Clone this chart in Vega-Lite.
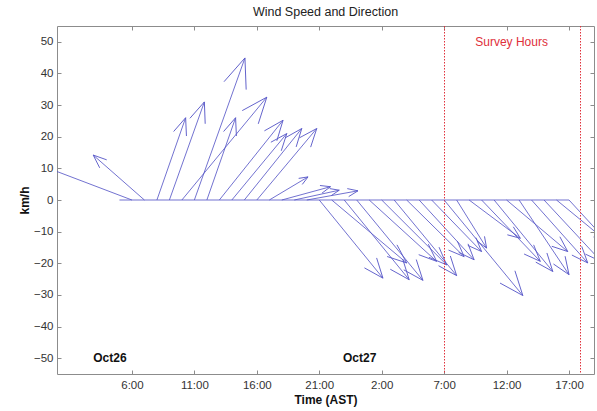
{
  "$schema": "https://vega.github.io/schema/vega-lite/v6.json",
  "width": 537,
  "height": 348,
  "autosize": {"type": "none"},
  "padding": {"left": 57, "top": 26, "right": 3, "bottom": 37},
  "background": "white",
  "title": {"text": "Wind Speed and Direction", "fontSize": 12.5, "fontWeight": "normal", "font": "Liberation Sans", "color": "#222", "offset": 7, "anchor": "middle"},
  "config": {
    "view": {"stroke": "#8c8c8c", "strokeWidth": 1},
    "font": "Liberation Sans",
    "axis": {"domain": false, "grid": false, "labelFont": "Liberation Sans", "labelFontSize": 11.5, "labelColor": "#333", "tickColor": "#8c8c8c", "tickSize": -4, "titleFont": "Liberation Sans", "titleFontSize": 12, "titleFontWeight": "bold", "titleColor": "#111"}
  },
  "datasets": {
    "wind": [
      {"t": 5, "x2": 5, "v": 0},
      {"t": 6, "x2": -2, "v": 12},
      {"t": 7, "x2": 2.9, "v": 14.2},
      {"t": 8, "x2": 10.3, "v": 26.0},
      {"t": 9, "x2": 11.8, "v": 31.0},
      {"t": 10, "x2": 16.8, "v": 32.5},
      {"t": 11, "x2": 15.05, "v": 44.9},
      {"t": 12, "x2": 14.3, "v": 26.0},
      {"t": 13, "x2": 18.1, "v": 25.2},
      {"t": 14, "x2": 18.4, "v": 21.0},
      {"t": 15, "x2": 19.6, "v": 22.6},
      {"t": 16, "x2": 20.8, "v": 22.6},
      {"t": 17, "x2": 20.1, "v": 7.3},
      {"t": 18, "x2": 21.9, "v": 4.2},
      {"t": 19, "x2": 22.6, "v": 3.1},
      {"t": 20, "x2": 24.1, "v": 2.9},
      {"t": 21, "x2": 26.1, "v": -24.7},
      {"t": 22, "x2": 28.0, "v": -19.9},
      {"t": 23, "x2": 28.2, "v": -25.2},
      {"t": 24, "x2": 29.3, "v": -25.4},
      {"t": 25, "x2": 30.4, "v": -19.4},
      {"t": 26, "x2": 31.2, "v": -20.5},
      {"t": 27, "x2": 32.0, "v": -23.9},
      {"t": 28, "x2": 32.6, "v": -17.9},
      {"t": 29, "x2": 33.4, "v": -18.9},
      {"t": 30, "x2": 34.0, "v": -16.3},
      {"t": 31, "x2": 37.3, "v": -30.2},
      {"t": 32, "x2": 34.4, "v": -15.2},
      {"t": 33, "x2": 37.1, "v": -12.1},
      {"t": 34, "x2": 38.7, "v": -19.4},
      {"t": 35, "x2": 39.7, "v": -22.6},
      {"t": 36, "x2": 40.9, "v": -16.3},
      {"t": 37, "x2": 41.0, "v": -23.6},
      {"t": 38, "x2": 42.5, "v": -19.9},
      {"t": 39, "x2": 43.6, "v": -19.5},
      {"t": 40, "x2": 44.0, "v": -13.0},
      {"t": 41, "x2": 44.5, "v": -15.0}
    ],
    "survey": [{"t": 31.03}, {"t": 41.92}],
    "notes": [{"t": 2.9, "v": -50, "label": "Oct26"}, {"t": 22.9, "v": -50, "label": "Oct27"}],
    "band": [{"t": 36.4, "v": 50, "label": "Survey Hours"}]
  },
  "resolve": {"axis": {"x": "independent", "y": "independent"}},
  "layer": [
    {
      "data": {"name": "wind"},
      "mark": {"type": "rule", "color": "#5858c8", "strokeWidth": 0.85, "clip": true},
      "encoding": {
        "x": {"field": "x2", "type": "quantitative", "scale": {"domain": [0, 43], "nice": false, "zero": false},
          "axis": {"orient": "bottom", "values": [6, 11, 16, 21, 26, 31, 36, 41], "labelExpr": "(datum.value % 24) + ':00'", "title": "Time (AST)", "labelPadding": 9, "titlePadding": 4}},
        "x2": {"field": "t"},
        "y": {"field": "v", "type": "quantitative", "scale": {"domain": [-55, 55], "nice": false, "zero": false},
          "axis": {"orient": "left", "values": [-50, -40, -30, -20, -10, 0, 10, 20, 30, 40, 50], "title": "km/h", "labelPadding": 8, "titlePadding": 2}},
        "y2": {"datum": 0}
      }
    },
    {
      "data": {"name": "wind"},
      "transform": [
        {"calculate": "(datum.x2 - datum.t) * 537 / 43", "as": "dxp"},
        {"calculate": "datum.v * 348 / 110", "as": "dyp"},
        {"calculate": "sqrt(datum.dxp * datum.dxp + datum.dyp * datum.dyp)", "as": "len"},
        {"filter": "datum.len > 1"},
        {"calculate": "atan2(datum.dxp, datum.dyp) * 180 / PI", "as": "ang"},
        {"calculate": "pow(0.39 * datum.len, 2)", "as": "hs"}
      ],
      "mark": {"type": "point", "shape": "M -0.4 1 L 0 0 L 0.4 1", "filled": false, "color": "#5858c8", "strokeWidth": 0.85, "opacity": 1, "clip": true},
      "encoding": {
        "x": {"field": "x2", "type": "quantitative",
          "axis": {"orient": "top", "labels": false, "values": [6, 11, 16, 21, 26, 31, 36, 41], "title": null}},
        "y": {"field": "v", "type": "quantitative",
          "axis": {"orient": "right", "labels": false, "values": [-50, -40, -30, -20, -10, 0, 10, 20, 30, 40, 50], "title": null}},
        "angle": {"field": "ang", "type": "quantitative", "scale": null},
        "size": {"field": "hs", "type": "quantitative", "scale": null}
      }
    },
    {
      "data": {"name": "survey"},
      "mark": {"type": "rule", "color": "#e0303a", "strokeWidth": 1, "strokeDash": [1.5, 1.5]},
      "encoding": {
        "x": {"field": "t", "type": "quantitative", "axis": null}
      }
    },
    {
      "data": {"name": "wind"},
      "transform": [
        {"aggregate": [{"op": "min", "field": "t", "as": "t0"}, {"op": "max", "field": "t", "as": "t1"}]}
      ],
      "mark": {"type": "rule", "color": "#5858c8", "strokeWidth": 0.85},
      "encoding": {
        "x": {"field": "t0", "type": "quantitative", "axis": null},
        "x2": {"field": "t1"},
        "y": {"datum": 0, "type": "quantitative", "axis": null}
      }
    },
    {
      "data": {"name": "notes"},
      "mark": {"type": "text", "font": "Liberation Sans", "fontSize": 12, "fontWeight": "bold", "color": "#111", "align": "left", "baseline": "middle"},
      "encoding": {
        "x": {"field": "t", "type": "quantitative", "axis": null},
        "y": {"field": "v", "type": "quantitative", "axis": null},
        "text": {"field": "label"}
      }
    },
    {
      "data": {"name": "band"},
      "mark": {"type": "text", "font": "Liberation Sans", "fontSize": 12, "color": "#e0303a", "align": "center", "baseline": "middle"},
      "encoding": {
        "x": {"field": "t", "type": "quantitative", "axis": null},
        "y": {"field": "v", "type": "quantitative", "axis": null},
        "text": {"field": "label"}
      }
    }
  ]
}
